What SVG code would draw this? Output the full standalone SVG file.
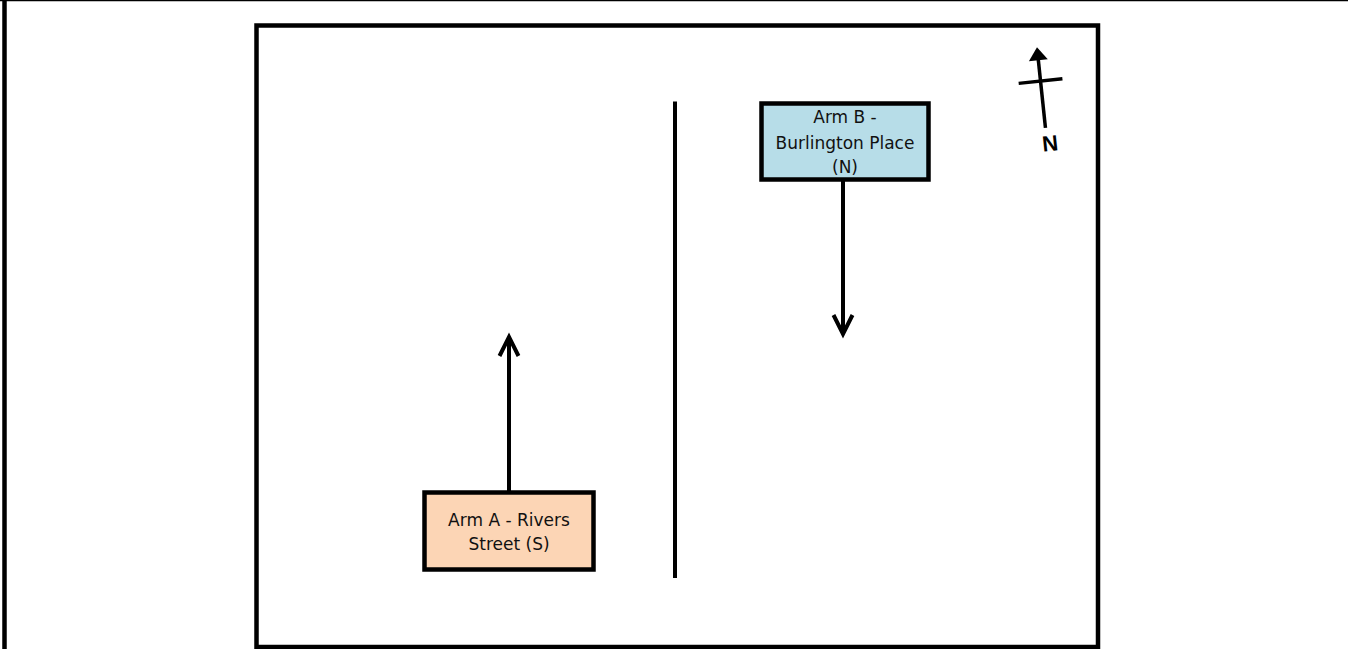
<svg xmlns="http://www.w3.org/2000/svg" width="1348" height="649" viewBox="0 0 1348 649">
  <style>
    .frame { fill: none; stroke: #000; }
    .box { stroke: #000; stroke-width: 4.5; }
    .lbl { font-family: "DejaVu Sans", "Liberation Sans", sans-serif; font-size: 17px; fill: #111; text-anchor: middle; }
    .conn { stroke: #000; stroke-width: 4; fill: none; }
    .nlbl { font-family: "Liberation Sans", "DejaVu Sans", sans-serif; font-size: 22px; font-weight: bold; fill: #000; text-anchor: middle; }
  </style>
  <defs>
    <marker id="open" markerUnits="userSpaceOnUse" markerWidth="40" markerHeight="40" viewBox="-25 -20 40 40" refX="0" refY="0" orient="auto" overflow="visible">
      <path d="M-19,-9.5 L0,0 L-19,9.5" fill="none" stroke="#000" stroke-width="4" stroke-linejoin="miter"/>
    </marker>
  </defs>
  <rect width="1348" height="649" fill="#fff"/>
  <line x1="0" y1="0.5" x2="1348" y2="0.5" stroke="#000" stroke-width="1.5"/>
  <line x1="4.5" y1="0" x2="4.5" y2="649" stroke="#000" stroke-width="4.5"/>
  <rect class="frame" x="256.5" y="25.5" width="841.5" height="621.5" stroke-width="4.5"/>
  <line x1="675" y1="101.5" x2="675" y2="578" stroke="#000" stroke-width="4"/>

  <g id="connectors">
    <line class="conn" x1="509" y1="492" x2="509" y2="337" marker-end="url(#open)"/>
    <line class="conn" x1="843" y1="180" x2="843" y2="334" marker-end="url(#open)"/>
  </g>

  <g id="armB">
    <rect class="box" x="761.5" y="103.5" width="167" height="76" fill="#b7dde8"/>
    <text class="lbl" x="845" y="123">Arm B -</text>
    <text class="lbl" x="845" y="149">Burlington Place</text>
    <text class="lbl" x="845" y="173">(N)</text>
  </g>

  <g id="armA">
    <rect class="box" x="424.5" y="492.5" width="169" height="77" fill="#fcd5b5"/>
    <text class="lbl" x="509" y="526">Arm A - Rivers</text>
    <text class="lbl" x="509" y="550">Street (S)</text>
  </g>

  <g id="north">
    <g transform="rotate(-6 1042 95)">
      <line x1="1042" y1="58" x2="1042" y2="128" stroke="#000" stroke-width="3.5"/>
      <polygon points="1042,47 1051.5,60 1032.5,60" fill="#000"/>
      <line x1="1020" y1="81" x2="1064" y2="81" stroke="#000" stroke-width="3.5"/>
    </g>
    <text class="nlbl" x="1050" y="151" transform="rotate(-6 1050 143)">N</text>
  </g>
</svg>
